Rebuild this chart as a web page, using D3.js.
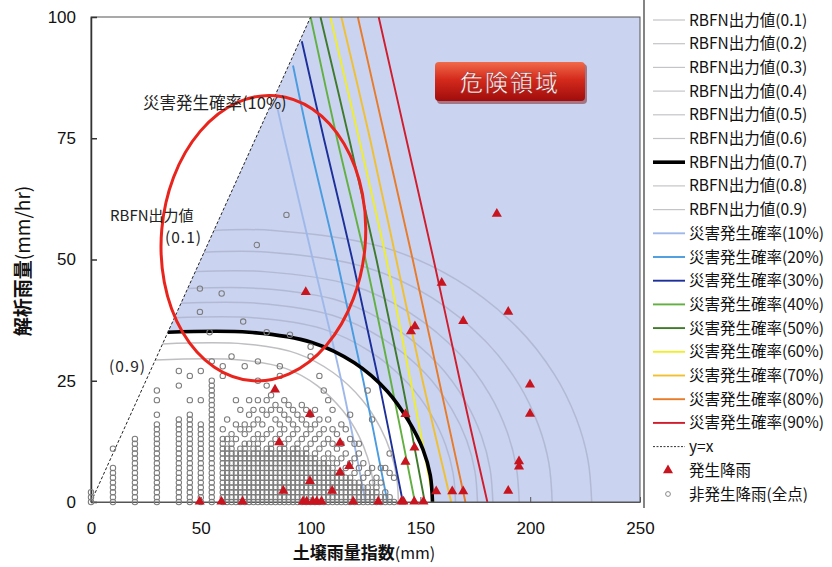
<!DOCTYPE html>
<html><head><meta charset="utf-8">
<script src="https://cdn.jsdelivr.net/npm/d3@7"></script>
<style>body{margin:0;background:#fff}svg{display:block}</style>
</head><body>
<svg id="c" width="832" height="567"></svg>
<script>
// ---------------- DATA ----------------
const xTicks = [0, 50, 100, 150, 200, 250];
const yTicks = [0, 25, 50, 75, 100];

// RBFN output contours [soil index, rainfall]
const rbfn01 = [[56,56],[83,56],[132.6,52.6],[166.2,45.9],[194.1,36.0],[211,26.3],[220.9,17.3],[226.3,8.7],[228,0]];
const rbfn02 = [[51.5,51.5],[81,51.5],[125.1,48.4],[155,42.2],[179.8,33.1],[194.9,24.2],[203.7,15.9],[208.5,8.0],[210,0]];
const rbfn03 = [[47.5,47.5],[79,47.5],[118.7,44.7],[145.6,38.9],[167.9,30.5],[181.4,22.3],[189.3,14.7],[193.6,7.4],[195,0]];
const rbfn04 = [[44,44],[77.5,44],[113.6,41.4],[138.1,36.0],[158.3,28.3],[170.7,20.6],[177.8,13.6],[181.7,6.9],[183,0]];
const rbfn05 = [[41,41],[75.5,41],[109.9,38.5],[133.2,33.6],[152.5,26.4],[164.2,19.2],[171.1,12.7],[174.8,6.4],[176,0]];
const rbfn06 = [[38,38],[74,38],[105.5,35.7],[126.8,31.1],[144.5,24.4],[155.2,17.8],[161.5,11.7],[164.9,5.9],[166,0]];
const rbfn07 = [[35,35],[72,35],[100.6,32.9],[119.9,28.7],[135,22.8],[144.5,16.8],[151.2,10.8],[154.5,5.5],[155.5,0]];
const rbfn08 = [[32.6,32.6],[70,32.6],[93.9,30.6],[110.2,26.7],[123.6,21.0],[131.8,15.3],[136.6,10.1],[139.2,5.1],[140,0]];
const rbfn09 = [[29.3,29.3],[68,29.3],[88.9,27.5],[103,24.0],[114.7,18.8],[121.9,13.7],[126,9.1],[128.3,4.6],[129,0]];

// disaster probability lines
const prob10 = [[85,81],[88,75],[101,50],[114,25],[125,0]];
const prob20 = [[92,90],[99,75],[112,50],[124,25],[135,0]];
const prob30 = [[96,95],[106,75],[119,50],[131,25],[142,0]];
const prob40 = [[100,100],[112,75],[125,50],[136.5,25],[147.5,0]];
const prob50 = [[104.5,100],[117.5,75],[130,50],[141.5,25],[152,0]];
const prob60 = [[109,100],[122,75],[134.5,50],[145.5,25],[156,0]];
const prob70 = [[114,100],[127,75],[139,50],[151,25],[164,0]];
const prob80 = [[121.5,100],[134,75],[146.5,50],[158.5,25],[170.5,0]];
const prob90 = [[131,100],[143.5,75],[156,50],[168,25],[180.5,0]];

const yEqualsX = [[0,0],[100,100]];

// occurring rainfall (red triangles)
const occurrence = [
 [97.8,43.2],[159.7,45.1],[147.5,36.1],[145.7,35.1],[169.5,37.2],[190,39.1],[184.8,59.3],
 [199.9,24.1],[199.9,18.1],[194.9,8.3],[194.9,7.2],[190,2.2],[143.2,18],[147.3,11.1],[143.2,8.2],
 [157.2,2.1],[164.5,2.1],[169.5,2.1],[83.8,23.1],[99.7,18],[85.7,12.2],[113.4,12.1],[117.6,7.3],
 [113.4,6],[99.7,4.2],[87.6,2.2],[109.8,2.2],
 [49.5,0],[59.4,0],[69,0],[96.5,0],[98.2,0],[101,0],[102.8,0],[105,0],[119.4,0],[130.8,0],
 [141.4,0],[142.3,0],[147.2,0],[151.4,0]
];

// non-occurring rainfall, per soil-index column: rainfall values ("a-b" = every integer a..b)
const nonOccColumns = [
 [0,"0-2"],[10,"0-7,11"],[20,"0-13"],[30,"0-16,18,21,23"],[40,"0-17,24,27"],[45,"0-18,21,26"],
 [50,"0-16,21,27"],[55,"0-25,29"],
 [60,"0-13,15,26,28"],[62,"0-11,13,17"],[64,"0-12,14,30"],[66,"0-10,13,16,21"],[68,"0-11,15,19"],
 [70,"0-12,14,16,28"],[72,"0-10,12,15,18,21"],[74,"0-11,13,16,19"],[76,"0-12,14,17,21,25,29"],
 [78,"0-10,13,16,19"],[80,"0-11,14,18,21,24"],[82,"0-12,15,19,22"],[84,"0-10,13,17,20"],
 [86,"0-11,14,16,19,26,28"],[88,"0-12,15,18,21"],[90,"0-10,13,17,20"],[92,"0-11,14,16,19"],
 [94,"0-12,15,18"],[96,"0-10,13,17,20"],[98,"0-11,14,16,19"],[100,"0-9,12,15,18,30,32"],
 [102,"0-10,13,16,19"],[104,"0-8,11,14,17,26"],[106,"0-9,12,15,23"],[108,"0-8,10,13,17,21"],
 [110,"0-7,9,12,15,19"],[112,"0-6,8,11,14"],[114,"0-6,9,12,16"],[116,"0-5,7,10,15"],
 [118,"0-5,8,13,18"],[120,"0-4,6,9,12"],[122,"0-4,7,10,12"],[124,"0-3,5,8"],[126,"0-3,6,23"],
 [128,"0-2,4,7,17"],[130,"0-3,5"],[132,"0-1,4,7"],[134,"0-2,7"],[136,"0-1,6,10"],[138,"0,5"]
];
const nonOccExtra = [[89,59.2],[75.5,53],[49.6,44],[59.5,43],[49.6,39.2],[69.3,37.2],[54,35],[80,35],[90.6,34.5]];

const rbfnLabels = ["RBFN出力値(0.1)","RBFN出力値(0.2)","RBFN出力値(0.3)","RBFN出力値(0.4)","RBFN出力値(0.5)",
 "RBFN出力値(0.6)","RBFN出力値(0.7)","RBFN出力値(0.8)","RBFN出力値(0.9)"];
const probLabels = ["災害発生確率(10%)","災害発生確率(20%)","災害発生確率(30%)","災害発生確率(40%)","災害発生確率(50%)",
 "災害発生確率(60%)","災害発生確率(70%)","災害発生確率(80%)","災害発生確率(90%)"];
const otherLabels = ["y=x","発生降雨","非発生降雨(全点)"];

// ---------------- STYLE ----------------
const rbfnSeries = [rbfn01,rbfn02,rbfn03,rbfn04,rbfn05,rbfn06,rbfn07,rbfn08,rbfn09];
const probSeries = [prob10,prob20,prob30,prob40,prob50,prob60,prob70,prob80,prob90];
const probColors = ["#9fb8ea","#4a9be0","#1c2f9a","#62b040","#3f7a2a","#f0ee2a","#f0c030","#e87a28","#d01c2c"];
const JP = '"Noto Sans CJK JP","Noto Sans",sans-serif';
const LAT = '"Liberation Sans",Arial,sans-serif';

const svg = d3.select("#c");
const x = d3.scaleLinear().domain([0,250]).range([91,640]);
const y = d3.scaleLinear().domain([0,100]).range([502,17]);
const line = d3.line().x(d=>x(d[0])).y(d=>y(d[1])).curve(d3.curveCatmullRom.alpha(0.5));
const straight = d3.line().x(d=>x(d[0])).y(d=>y(d[1]));

// danger region
svg.append("path")
  .attr("d", line(rbfn07) + `L${x(250)},${y(0)}L${x(250)},${y(100)}L${x(100)},${y(100)}Z`)
  .attr("fill","#cad3ef");

// RBFN gray contours
rbfnSeries.forEach((s,i)=>{ if(i===6) return;
  svg.append("path").attr("d",line(s)).attr("fill","none")
    .attr("stroke", i>6 ? "#b8b8bc" : "#8f94ad").attr("stroke-opacity", i>6 ? 0.9 : 0.4).attr("stroke-width",1.5);
});
// probability lines
probSeries.forEach((s,i)=>{
  svg.append("path").attr("d",line(s)).attr("fill","none")
    .attr("stroke",probColors[i]).attr("stroke-width",1.9);
});
// RBFN 0.7
svg.append("path").attr("d",line(rbfn07)).attr("fill","none").attr("stroke","#000").attr("stroke-width",3.6);
// y=x
svg.append("path").attr("d",straight(yEqualsX)).attr("stroke","#222").attr("stroke-width",1)
  .attr("stroke-dasharray","3,2").attr("fill","none");

// frame
svg.append("rect").attr("x",x(0)).attr("y",y(100)).attr("width",x(250)-x(0)).attr("height",y(0)-y(100))
  .attr("fill","none").attr("stroke","#555").attr("stroke-width",1);

// axes
const ya = svg.append("g").attr("transform",`translate(${x(0)},0)`)
  .call(d3.axisLeft(y).tickValues(yTicks).tickSizeInner(-6).tickSizeOuter(0).tickPadding(15));
ya.select(".domain").attr("stroke","#333").attr("stroke-width",1.5);
ya.selectAll("line").attr("stroke","#333").attr("stroke-width",1.5);
ya.selectAll("text").attr("font-family",LAT).attr("font-size",17).attr("fill","#111");
const xa = svg.append("g").attr("transform",`translate(0,${y(0)})`)
  .call(d3.axisBottom(x).tickValues(xTicks).tickSizeInner(-5).tickSizeOuter(0).tickPadding(20));
xa.select(".domain").attr("stroke","#555");
xa.selectAll("line").attr("stroke","#555");
xa.selectAll("text").attr("font-family",LAT).attr("font-size",17).attr("fill","#111");

// non-occurring points
function expand(str){
  const out=[];
  str.split(",").forEach(t=>{
    if(t.includes("-")){const [a,b]=t.split("-").map(Number); for(let v=a;v<=b;v++) out.push(v);}
    else out.push(+t);
  });
  return out;
}
const nonOcc = [];
nonOccColumns.forEach(([cx,str])=>expand(str).forEach(v=>nonOcc.push([cx,v])));
nonOccExtra.forEach(p=>nonOcc.push(p));
svg.append("g").selectAll("circle").data(nonOcc).join("circle")
  .attr("cx",d=>x(d[0])).attr("cy",d=>y(d[1])).attr("r",2.7)
  .attr("fill","none").attr("stroke","#7c7c7c").attr("stroke-width",1.05);

// occurring points
const tri = d3.symbol(d3.symbolTriangle, 44);
svg.append("g").selectAll("path").data(occurrence).join("path")
  .attr("d",tri).attr("transform",d=>`translate(${x(d[0])},${y(d[1])-0.5})`)
  .attr("fill","#c8141e");

// annotation ellipse
const eC=[78.5,54.4];
svg.append("ellipse").attr("cx",x(eC[0])).attr("cy",y(eC[1])).attr("rx",102).attr("ry",143)
  .attr("transform",`rotate(5,${x(eC[0])},${y(eC[1])})`)
  .attr("fill","none").attr("stroke","#e8241c").attr("stroke-width",3);

// annotation texts
svg.append("text").attr("x",143).attr("y",109).attr("font-family",JP).attr("font-size",16.5).attr("fill","#222")
  .text("災害発生確率(10%)");
svg.append("text").attr("x",110).attr("y",221).attr("font-family",JP).attr("font-size",15).attr("fill","#222")
  .text("RBFN出力値");
svg.append("text").attr("x",165).attr("y",243).attr("font-family",JP).attr("font-size",15.5).attr("fill","#222")
  .attr("letter-spacing",1).text("(0.1)");
svg.append("text").attr("x",109).attr("y",372).attr("font-family",JP).attr("font-size",15.5).attr("fill","#222")
  .attr("letter-spacing",1).text("(0.9)");

// danger badge
const defs = svg.append("defs");
const g = defs.append("linearGradient").attr("id","bg").attr("x1",0).attr("y1",0).attr("x2",0).attr("y2",1);
g.append("stop").attr("offset","0%").attr("stop-color","#f06a4a");
g.append("stop").attr("offset","45%").attr("stop-color","#d42a1c");
g.append("stop").attr("offset","100%").attr("stop-color","#a00c0c");
svg.append("rect").attr("x",437).attr("y",64).attr("width",150).attr("height",40).attr("rx",4).attr("fill","#7a1a1a").attr("opacity",0.5);
svg.append("rect").attr("x",435).attr("y",62).attr("width",150).attr("height",39).attr("rx",4).attr("fill","url(#bg)");
svg.append("text").attr("x",510).attr("y",90.5).attr("text-anchor","middle").attr("font-family",JP)
  .attr("font-size",23).attr("letter-spacing",2).attr("fill","#fff").attr("stroke","#8a1010").attr("stroke-width",0.4)
  .text("危険領域");

// axis titles
svg.append("text").attr("transform","translate(30,261) rotate(-90)").attr("text-anchor","middle")
  .attr("font-family",JP).attr("font-size",19).attr("fill","#111")
  .call(t=>{t.append("tspan").attr("font-weight","bold").text("解析雨量");t.append("tspan").text("(mm/hr)");});
svg.append("text").attr("x",364).attr("y",559).attr("text-anchor","middle")
  .attr("font-family",JP).attr("font-size",17).attr("fill","#111")
  .call(t=>{t.append("tspan").attr("font-weight","bold").text("土壌雨量指数");t.append("tspan").attr("font-size",16).text("(mm)");});

// legend
svg.append("line").attr("x1",644).attr("x2",644).attr("y1",0).attr("y2",508).attr("stroke","#333").attr("stroke-width",1.2);
const leg = svg.append("g");
const allLabels = rbfnLabels.concat(probLabels, otherLabels);
allLabels.forEach((lab,i)=>{
  const cy = 20 + i*23.7;
  if(i<9){
    leg.append("line").attr("x1",653).attr("x2",685).attr("y1",cy).attr("y2",cy)
      .attr("stroke", i===6 ? "#000" : "#c4c4c8").attr("stroke-width", i===6 ? 3.6 : 1.2);
  } else if(i<18){
    leg.append("line").attr("x1",653).attr("x2",685).attr("y1",cy).attr("y2",cy)
      .attr("stroke",probColors[i-9]).attr("stroke-width",1.9);
  } else if(i===18){
    leg.append("line").attr("x1",653).attr("x2",685).attr("y1",cy).attr("y2",cy)
      .attr("stroke","#333").attr("stroke-dasharray","2,1.5").attr("stroke-width",1);
  } else if(i===19){
    leg.append("path").attr("d",tri).attr("transform",`translate(668,${cy})`).attr("fill","#c8141e");
  } else {
    leg.append("circle").attr("cx",668).attr("cy",cy).attr("r",2.4).attr("fill","none").attr("stroke","#8a8a8a");
  }
  leg.append("text").attr("x",689).attr("y",cy+5.5).attr("font-family",JP).attr("font-size",15.5)
    .attr("fill","#111").text(lab);
});
</script>
</body></html>
